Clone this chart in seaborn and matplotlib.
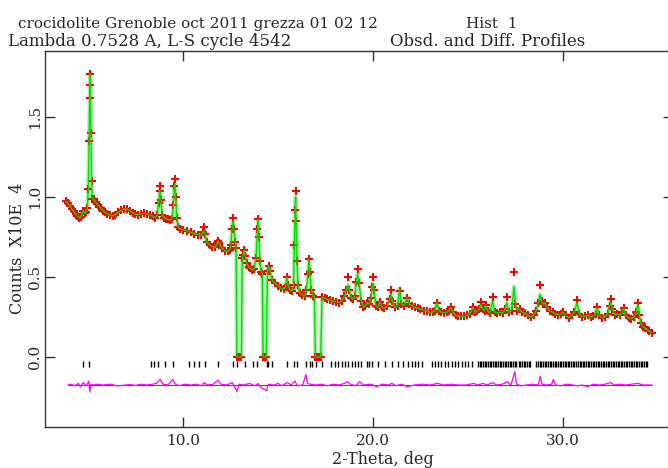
import matplotlib
matplotlib.use("Agg")
import matplotlib.pyplot as plt
import numpy as np
import pandas as pd
import seaborn as sns

# ---------------- data ----------------
two_theta = [
    3.85, 3.95, 4.05, 4.15, 4.25, 4.35, 4.45, 4.55, 4.62, 4.70, 4.75, 4.82, 4.90, 4.97,
    5.02, 5.06, 5.09, 5.11, 5.13, 5.16, 5.19, 5.23, 5.30, 5.40, 5.50, 5.60,
    5.70, 5.80, 5.90, 6.00, 6.15, 6.30, 6.45, 6.60, 6.75, 6.90, 7.05, 7.20, 7.35, 7.50,
    7.65, 7.80, 7.95, 8.10, 8.25, 8.40, 8.55,
    8.65, 8.72, 8.78, 8.81, 8.85, 8.90, 9.00, 9.10, 9.20, 9.30, 9.42, 9.50, 9.55, 9.58,
    9.62, 9.67, 9.75, 9.85,
    10.00, 10.20, 10.40, 10.60, 10.80, 10.95, 11.05, 11.10, 11.15, 11.25, 11.40, 11.55,
    11.70, 11.80, 11.85, 11.92, 12.05, 12.20, 12.35, 12.45, 12.52, 12.58, 12.63, 12.68,
    12.75, 12.80,
    12.84, 12.90, 13.00, 13.08,
    13.12, 13.17, 13.22, 13.28, 13.35, 13.45, 13.55, 13.65, 13.75, 13.85, 13.92, 13.96,
    14.00, 14.05, 14.12, 14.18,
    14.22, 14.30, 14.38,
    14.45, 14.52, 14.58, 14.70, 14.85, 15.00, 15.15, 15.30, 15.40, 15.47, 15.53, 15.62,
    15.75, 15.82, 15.87, 15.90, 15.93, 15.96, 16.00, 16.05, 16.15, 16.25, 16.40, 16.50,
    16.58, 16.63, 16.68, 16.75, 16.85, 16.92,
    16.97, 17.05, 17.15, 17.25,
    17.32, 17.45, 17.60, 17.75, 17.90, 18.05, 18.20, 18.35, 18.50, 18.60, 18.68, 18.75,
    18.85, 18.95, 19.05, 19.12, 19.20, 19.27, 19.38, 19.50, 19.60, 19.70, 19.78, 19.90,
    19.96, 20.00, 20.05, 20.15, 20.25, 20.37, 20.48, 20.60, 20.75, 20.88, 20.95, 21.02,
    21.15, 21.30, 21.40, 21.50, 21.62, 21.80, 21.90, 22.05, 22.20, 22.35, 22.50, 22.70,
    22.85, 23.00, 23.15, 23.25, 23.37, 23.47, 23.60, 23.75, 23.90, 24.00, 24.10, 24.20,
    24.35, 24.50, 24.65, 24.80, 24.95, 25.10, 25.26, 25.38, 25.50, 25.60, 25.68, 25.78,
    25.87, 25.95, 26.05, 26.15, 26.30, 26.40, 26.55, 26.70, 26.85, 26.95, 27.05, 27.15,
    27.30, 27.42, 27.50, 27.60, 27.72, 27.85, 28.00, 28.15, 28.30, 28.45, 28.60, 28.70,
    28.79, 28.88, 28.95, 29.05, 29.15, 29.30, 29.45, 29.60, 29.75, 29.90, 30.00, 30.15,
    30.30, 30.45, 30.60, 30.74, 30.85, 31.00, 31.15, 31.30, 31.45, 31.60, 31.72, 31.80,
    31.90, 32.05, 32.20, 32.35, 32.45, 32.52, 32.60, 32.72, 32.85, 33.00, 33.12, 33.20,
    33.30, 33.45, 33.60, 33.75, 33.85, 33.95, 34.02, 34.10, 34.20, 34.30, 34.45, 34.55,
    34.68,
]

obs_counts = [
    0.975, 0.960, 0.945, 0.925, 0.910, 0.895, 0.880, 0.870, 0.875, 0.895, 0.915, 0.900, 0.905, 0.930,
    1.05, 1.35, 1.62, 1.77, 1.70, 1.40, 1.10, 0.99, 0.985, 0.970, 0.955, 0.940,
    0.930, 0.915, 0.905, 0.895, 0.885, 0.882, 0.890, 0.905, 0.918, 0.925, 0.925, 0.915, 0.900, 0.892,
    0.890, 0.895, 0.898, 0.895, 0.885, 0.880, 0.870,
    0.890, 0.960, 1.040, 1.070, 0.980, 0.890, 0.870, 0.865, 0.860, 0.855, 0.860, 0.950, 1.070, 1.110,
    1.000, 0.870, 0.810, 0.800,
    0.795, 0.790, 0.780, 0.770, 0.765, 0.760, 0.780, 0.810, 0.770, 0.720, 0.700, 0.690,
    0.685, 0.710, 0.725, 0.710, 0.680, 0.665, 0.660, 0.670, 0.700, 0.800, 0.870, 0.800,
    0.720, 0.680,
    0.0, 0.0, 0.0, 0.0,
    0.620, 0.640, 0.670, 0.630, 0.590, 0.565, 0.555, 0.545, 0.550, 0.620, 0.800, 0.860,
    0.750, 0.600, 0.530, 0.520,
    0.0, 0.0, 0.0,
    0.540, 0.570, 0.540, 0.480, 0.460, 0.445, 0.430, 0.425, 0.440, 0.500, 0.450, 0.420,
    0.415, 0.450, 0.700, 0.920, 1.040, 0.850, 0.600, 0.450, 0.400, 0.390, 0.380, 0.420,
    0.520, 0.610, 0.530, 0.420, 0.380, 0.375,
    0.0, 0.0, 0.0, 0.0,
    0.375, 0.370, 0.360, 0.355, 0.350, 0.345, 0.340, 0.350, 0.380, 0.420, 0.500, 0.420,
    0.370, 0.360, 0.380, 0.470, 0.550, 0.460, 0.350, 0.310, 0.320, 0.340, 0.330, 0.370,
    0.440, 0.500, 0.420, 0.320, 0.310, 0.345, 0.310, 0.305, 0.320, 0.360, 0.420, 0.350,
    0.310, 0.320, 0.410, 0.330, 0.320, 0.370, 0.330, 0.320, 0.310, 0.305, 0.300, 0.290,
    0.285, 0.280, 0.280, 0.290, 0.340, 0.290, 0.280, 0.275, 0.280, 0.290, 0.310, 0.280,
    0.260, 0.255, 0.255, 0.255, 0.260, 0.270, 0.310, 0.280, 0.290, 0.300, 0.345, 0.300,
    0.290, 0.325, 0.285, 0.275, 0.375, 0.280, 0.275, 0.280, 0.275, 0.300, 0.375, 0.280,
    0.290, 0.530, 0.330, 0.290, 0.300, 0.280, 0.275, 0.260, 0.250, 0.260, 0.290, 0.340,
    0.450, 0.350, 0.330, 0.340, 0.310, 0.290, 0.280, 0.270, 0.265, 0.270, 0.280, 0.260,
    0.245, 0.260, 0.280, 0.355, 0.270, 0.250, 0.255, 0.260, 0.250, 0.255, 0.270, 0.310,
    0.260, 0.245, 0.250, 0.270, 0.320, 0.360, 0.300, 0.265, 0.270, 0.260, 0.280, 0.305,
    0.260, 0.245, 0.240, 0.250, 0.280, 0.340, 0.260, 0.210, 0.190, 0.180, 0.170, 0.160,
    0.150,
]

# calculated profile differs from observed at these peak tops
calc_peak_2theta = [8.81, 9.58, 11.10, 12.63, 15.93, 18.68, 19.20, 20.00, 20.95, 21.40,
                    25.68, 26.30, 27.05, 27.42, 28.79, 30.74, 32.52, 33.95]
calc_peak_counts = [1.03, 1.08, 0.79, 0.85, 1.00, 0.45, 0.52, 0.46, 0.39, 0.425,
                    0.33, 0.35, 0.34, 0.44, 0.39, 0.34, 0.34, 0.33]

# difference curve (offset)
diff_2theta = [
    3.95, 4.10, 4.30, 4.50, 4.60, 4.75, 4.90, 5.05, 5.10, 5.15, 5.30, 5.50, 5.80, 6.20,
    6.50, 6.80, 7.20, 7.50, 7.80, 8.10, 8.40, 8.60, 8.80, 8.95, 9.20, 9.47, 9.60, 9.80,
    10.10, 10.40, 10.70, 11.00, 11.10, 11.30, 11.60, 11.84, 12.00, 12.30, 12.60, 12.84,
    12.95, 13.20, 13.50, 13.80, 13.95, 14.10, 14.40, 14.50, 14.80, 15.00, 15.20, 15.50,
    15.70, 15.90, 16.00, 16.30, 16.47, 16.55, 16.70, 17.00, 17.30, 17.60, 17.90, 18.20,
    18.50, 18.68, 18.80, 19.10, 19.30, 19.50, 19.90, 20.20, 20.50, 20.80, 21.00, 21.20,
    21.50, 21.80, 22.20, 22.60, 23.00, 23.40, 23.70, 24.10, 24.50, 24.90, 25.30, 25.50,
    25.80, 26.00, 26.30, 26.50, 26.80, 27.10, 27.25, 27.47, 27.55, 27.80, 28.10, 28.40,
    28.70, 28.80, 28.90, 29.10, 29.40, 29.50, 29.60, 29.90, 30.20, 30.50, 30.80, 31.00,
    31.30, 31.60, 31.90, 32.20, 32.50, 32.70, 33.00, 33.30, 33.60, 33.95, 34.20, 34.68,
]
diff_counts = [
    -0.175, -0.170, -0.180, -0.165, -0.185, -0.160, -0.180, -0.150, -0.220, -0.170, -0.175, -0.170, -0.175, -0.170,
    -0.180, -0.178, -0.172, -0.178, -0.170, -0.175, -0.170, -0.165, -0.140, -0.170, -0.175, -0.140, -0.170, -0.180,
    -0.170, -0.175, -0.170, -0.180, -0.160, -0.175, -0.170, -0.145, -0.170, -0.175, -0.160, -0.215,
    -0.170, -0.175, -0.165, -0.180, -0.165, -0.190, -0.210, -0.170, -0.175, -0.165, -0.180, -0.160,
    -0.175, -0.150, -0.180, -0.175, -0.110, -0.165, -0.170, -0.175, -0.170, -0.180, -0.170, -0.175,
    -0.165, -0.155, -0.170, -0.180, -0.155, -0.175, -0.170, -0.185, -0.170, -0.175, -0.165, -0.180,
    -0.170, -0.185, -0.175, -0.170, -0.175, -0.165, -0.175, -0.170, -0.175, -0.175, -0.165, -0.175,
    -0.165, -0.175, -0.160, -0.175, -0.170, -0.155, -0.180, -0.090, -0.170, -0.180, -0.175, -0.170,
    -0.175, -0.120, -0.170, -0.175, -0.170, -0.140, -0.175, -0.180, -0.170, -0.175, -0.180, -0.175,
    -0.185, -0.170, -0.175, -0.170, -0.160, -0.175, -0.170, -0.175, -0.170, -0.165, -0.175, -0.175,
]
diff_zero = -0.175

# reflection tick positions
reflections = [
    4.74, 5.05, 8.30, 8.50, 8.70, 9.05, 9.47, 10.30, 10.60, 10.85, 11.16, 11.84, 12.63,
    12.84, 13.26, 13.70, 13.90, 14.40, 14.50, 14.70, 15.50, 15.84, 16.00, 16.50, 16.70,
    16.80, 17.00, 17.30, 17.80, 18.00, 18.17, 18.35, 18.53, 18.70, 18.88, 19.05, 19.23,
    19.35, 19.67, 19.80, 19.93, 20.28, 20.63, 20.98, 21.33, 21.60, 21.86, 22.04, 22.20,
    22.38, 22.56, 23.09, 23.26, 23.44, 23.60, 23.80, 23.96, 24.14, 24.30, 24.50, 24.67,
    24.84, 25.00, 25.20, 25.54, 25.62, 25.71, 25.80, 25.88, 25.97, 26.06, 26.14, 26.23,
    26.32, 26.41, 26.49, 26.58, 26.67, 26.76, 26.84, 26.93, 27.02, 27.10, 27.19, 27.28,
    27.37, 27.45, 27.55, 27.66, 27.75, 27.84, 27.93, 28.02, 28.10, 28.19, 28.26, 28.60,
    28.68, 28.77, 28.86, 28.94, 29.03, 29.12, 29.20, 29.30, 29.38, 29.47, 29.56, 29.64,
    29.73, 29.82, 29.91, 29.99, 30.08, 30.17, 30.26, 30.34, 30.43, 30.52, 30.60, 30.69,
    30.78, 30.87, 30.95, 31.04, 31.13, 31.21, 31.30, 31.39, 31.48, 31.56, 31.65, 31.74,
    31.82, 31.91, 32.00, 32.09, 32.17, 32.26, 32.35, 32.43, 32.52, 32.61, 32.70, 32.78,
    32.87, 32.96, 33.04, 33.13, 33.22, 33.31, 33.39, 33.48, 33.57, 33.65, 33.74, 33.83,
    33.92, 34.00, 34.09, 34.18, 34.26, 34.35, 34.42,
]
reflection_level = -0.046

x_ticks = [10.0, 20.0, 30.0]
y_ticks = [0.0, 0.5, 1.0, 1.5]

title_line1 = "crocidolite Grenoble oct 2011 grezza 01 02 12"
title_hist = "Hist  1"
title_line2 = "Lambda 0.7528 A, L-S cycle 4542"
title_kind = "Obsd. and Diff. Profiles"
x_label = "2-Theta, deg"
y_label = "Counts  X10E  4"

if len(two_theta) != len(obs_counts):
    raise SystemExit(f"length mismatch {len(two_theta)} vs {len(obs_counts)}")
if len(diff_2theta) != len(diff_counts):
    raise SystemExit(f"diff length mismatch {len(diff_2theta)} vs {len(diff_counts)}")

calc_counts = list(obs_counts)
pos = {round(t, 2): i for i, t in enumerate(two_theta)}
for t, v in zip(calc_peak_2theta, calc_peak_counts):
    calc_counts[pos[round(t, 2)]] = v

df = pd.DataFrame({"tt": two_theta, "obs": obs_counts, "calc": calc_counts})
df_diff = pd.DataFrame({"tt": diff_2theta, "diff": diff_counts})
df_ref = pd.DataFrame({"tt": reflections, "lvl": [reflection_level] * len(reflections)})

# ---------------- figure ----------------
sns.set_style("white")
plt.rcParams["font.family"] = ["DejaVu Serif"]

W, H = 668, 468
fig = plt.figure(figsize=(W / 100, H / 100), dpi=100)
L, R, T, B = 45, 673, 51, 427
ax = fig.add_axes([L / W, 1 - B / H, (R - L) / W, (B - T) / H])

# light green halo under calc line
sns.lineplot(data=df, x="tt", y="calc", sort=False, estimator=None, color="#a8f0a8",
             lw=3.0, ax=ax, zorder=1)
# observed
sns.scatterplot(data=df, x="tt", y="obs", marker="+", color="#ff0000", s=30,
                linewidth=1.5, ax=ax, zorder=2)
# calculated
sns.lineplot(data=df, x="tt", y="calc", sort=False, estimator=None, color="#00e000",
             lw=1.0, ax=ax, zorder=3)
# reflection ticks
sns.scatterplot(data=df_ref, x="tt", y="lvl", marker="|", color="black", s=22,
                linewidth=1.0, ax=ax, zorder=3)
# difference
ax.plot([diff_2theta[0], diff_2theta[-1]], [diff_zero, diff_zero], color="#555555",
        lw=0.8, zorder=2)
sns.lineplot(data=df_diff, x="tt", y="diff", sort=False, estimator=None, color="#ff00ff",
             lw=0.9, ax=ax, zorder=3)

ax.set_xlim(2.74, 35.79)
ax.set_ylim(-0.4375, 1.9125)
ax.set_xticks(x_ticks)
ax.set_xticklabels([f"{v:.1f}" for v in x_ticks])
ax.set_yticks(y_ticks)
ax.set_yticklabels([f"{v:.1f}" for v in y_ticks], rotation=90, va="center")
ax.tick_params(axis="both", direction="in", length=7, width=1, color="#333333",
               labelsize=11, top=True, right=True, bottom=True, left=True)
ax.tick_params(axis="x", pad=5)
ax.tick_params(axis="y", pad=2)
ax.set_xlabel("")
ax.set_ylabel("")
for s in ax.spines.values():
    s.set_color("#333333")
    s.set_linewidth(1.0)
    s.set_visible(True)

fig.text(18 / W, 1 - 28 / H, title_line1, fontsize=11, va="baseline", ha="left")
fig.text(466 / W, 1 - 28 / H, title_hist, fontsize=11, va="baseline", ha="left")
fig.text(8 / W, 1 - 46 / H, title_line2, fontsize=12, va="baseline", ha="left")
fig.text(390 / W, 1 - 46 / H, title_kind, fontsize=12, va="baseline", ha="left")
fig.text(383 / W, 1 - 459 / H, x_label, fontsize=11.5, va="center", ha="center")
fig.text(18 / W, 1 - 248 / H, y_label, fontsize=11.5, va="center", ha="center", rotation=90)

fig.savefig("out.png", dpi=100)
